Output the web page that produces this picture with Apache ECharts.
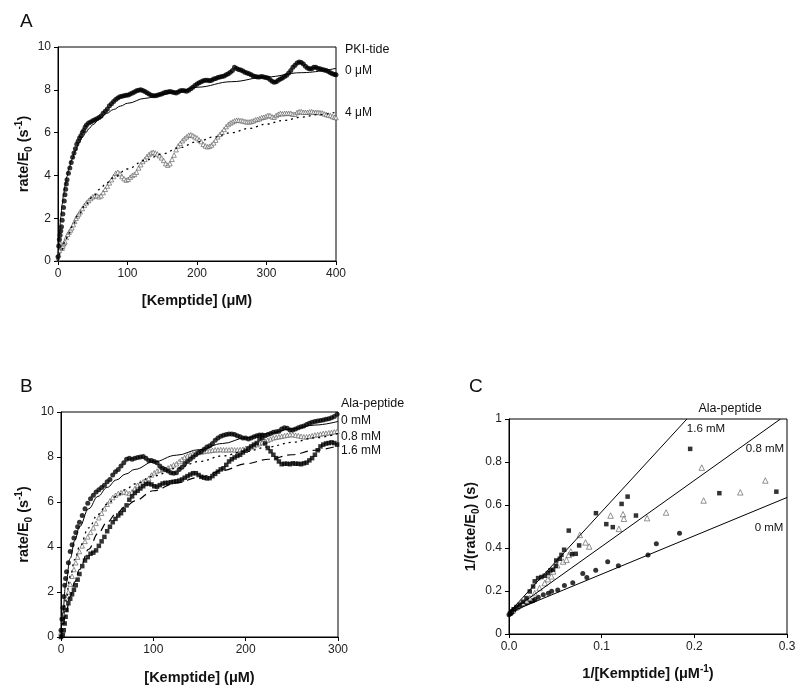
<!DOCTYPE html>
<html><head><meta charset="utf-8">
<script src="https://cdn.jsdelivr.net/npm/echarts@6/dist/echarts.min.js"></script>
<style>html,body{margin:0;padding:0;background:#fff}#c{width:800px;height:695px}</style>
</head><body><div id="c"></div><script>
// ---------- Panel A data (Kemptide µM, rate/E0 s^-1) ----------
const A_pki0_data = [[0,0.2],[1,0.7],[2,1.0],[3,1.2],[4,1.4],[5,1.6],[6,1.9],[7,2.2],[8,2.5],[9,2.8],[10,3.1],[11,3.35],[12,3.6],[13,3.8],[15,4.1],[17,4.35],[19,4.6],[21,4.85],[23,5.05],[25,5.25],[27,5.45],[29,5.6],[31,5.75],[33,5.85],[35,6.0],[37,6.1],[39,6.25],[41,6.35],[44,6.45],[47,6.5],[50,6.55],[53,6.6],[56,6.65],[59,6.7],[62,6.78],[65,6.9],[68,7.0],[71,7.1],[74,7.25],[77,7.35],[80,7.45],[83,7.55],[86,7.62],[89,7.68],[92,7.7],[95,7.72],[98,7.75],[101,7.76],[104,7.8],[107,7.85],[110,7.9],[113,7.95],[116,7.98],[119,8.0],[122,7.97],[125,7.92],[128,7.86],[131,7.8],[134,7.75],[137,7.72],[140,7.72],[143,7.75],[146,7.78],[149,7.8],[152,7.85],[155,7.88],[158,7.9],[161,7.92],[164,7.9],[167,7.87],[170,7.85],[173,7.9],[176,7.95],[179,7.97],[182,7.95],[185,7.93],[188,7.98],[191,8.05],[194,8.12],[197,8.2],[200,8.27],[203,8.33],[206,8.38],[209,8.42],[212,8.45],[215,8.45],[218,8.42],[221,8.45],[224,8.5],[227,8.53],[230,8.57],[233,8.6],[236,8.62],[239,8.65],[242,8.7],[245,8.75],[248,8.82],[251,8.9],[254,9.05],[257,9.0],[260,8.95],[263,8.92],[266,8.88],[269,8.82],[272,8.78],[275,8.75],[278,8.7],[281,8.65],[284,8.62],[287,8.6],[290,8.6],[293,8.62],[296,8.6],[299,8.58],[302,8.55],[305,8.48],[308,8.4],[311,8.35],[314,8.38],[317,8.45],[320,8.5],[323,8.55],[326,8.62],[329,8.68],[332,8.78],[335,8.9],[338,9.05],[341,9.15],[344,9.25],[347,9.3],[350,9.28],[353,9.2],[356,9.1],[359,9.02],[362,8.98],[365,8.98],[368,9.05],[371,9.05],[374,9.0],[377,8.98],[380,8.95],[383,8.92],[386,8.9],[389,8.85],[392,8.8],[395,8.75],[398,8.72],[400,8.7]];
const A_pki4_data = [[0,0.1],[1,0.3],[2,0.5],[3,0.7],[4,0.8],[5,0.65],[6,0.6],[7,0.7],[8,0.8],[9,0.85],[10,0.9],[12,1.1],[14,1.25],[16,1.35],[18,1.45],[20,1.55],[22,1.7],[24,1.85],[26,2.0],[28,2.1],[30,2.2],[32,2.3],[35,2.45],[38,2.6],[41,2.72],[44,2.82],[47,2.92],[50,3.0],[53,3.05],[56,3.05],[59,3.0],[62,3.05],[65,3.2],[68,3.35],[71,3.5],[74,3.65],[77,3.8],[80,3.95],[83,4.1],[86,4.15],[89,4.08],[92,3.95],[95,3.85],[98,3.78],[101,3.82],[104,3.92],[107,4.0],[110,4.05],[113,4.15],[116,4.35],[119,4.5],[122,4.65],[125,4.75],[128,4.88],[131,4.98],[134,5.05],[137,5.08],[140,5.05],[143,5.0],[146,4.92],[149,4.82],[152,4.7],[155,4.55],[158,4.48],[161,4.55],[164,4.75],[167,4.95],[170,5.2],[173,5.38],[176,5.5],[179,5.62],[182,5.72],[185,5.8],[188,5.88],[191,5.9],[194,5.86],[197,5.8],[200,5.75],[203,5.66],[206,5.58],[209,5.45],[212,5.38],[215,5.34],[218,5.36],[221,5.42],[224,5.52],[227,5.65],[230,5.8],[233,5.92],[236,6.02],[239,6.15],[242,6.28],[245,6.38],[248,6.45],[251,6.5],[254,6.55],[257,6.58],[260,6.58],[263,6.56],[266,6.55],[269,6.52],[272,6.5],[275,6.5],[278,6.52],[281,6.55],[284,6.6],[287,6.62],[290,6.65],[293,6.7],[296,6.72],[299,6.75],[302,6.8],[305,6.8],[308,6.74],[311,6.72],[314,6.8],[317,6.86],[320,6.9],[323,6.88],[326,6.9],[329,6.9],[332,6.9],[335,6.9],[338,6.86],[341,6.86],[344,6.94],[347,6.98],[350,6.98],[353,6.95],[356,6.95],[359,6.95],[362,6.97],[365,6.98],[368,6.95],[371,6.95],[374,6.95],[377,6.93],[380,6.92],[383,6.88],[386,6.85],[389,6.82],[392,6.8],[395,6.75],[398,6.72],[400,6.7]];
const A_fit0 = [[0,0],[1,0.7],[2,1.25],[4,2.05],[6,2.65],[8,3.1],[10,3.5],[13,3.95],[16,4.35],[20,4.75],[25,5.15],[30,5.5],[35,5.78],[40,6.0],[45,6.2],[50,6.37],[60,6.65],[70,6.9],[80,7.08],[90,7.24],[100,7.37],[125,7.6],[150,7.78],[175,7.95],[200,8.12],[250,8.38],[300,8.6],[350,8.8],[400,9.0]];
const A_fit4 = [[0,0],[5,0.5],[10,0.9],[15,1.27],[20,1.6],[30,2.2],[40,2.65],[50,3.0],[60,3.35],[70,3.65],[80,3.9],[100,4.3],[125,4.7],[150,5.0],[175,5.3],[200,5.57],[225,5.8],[250,6.0],[275,6.2],[300,6.4],[325,6.57],[350,6.72],[375,6.84],[400,6.95]];

// ---------- Panel B data ----------
const B_ala0_data = [[0,0.3],[1,0.8],[2,1.3],[3,1.8],[4,2.3],[5,2.6],[6,2.9],[8,3.3],[10,3.8],[12,4.1],[14,4.4],[16,4.65],[18,4.9],[20,5.1],[23,5.4],[26,5.7],[29,5.95],[32,6.15],[35,6.3],[38,6.45],[41,6.55],[44,6.65],[47,6.75],[50,6.9],[53,7.0],[56,7.2],[59,7.35],[62,7.45],[65,7.6],[68,7.75],[71,7.9],[74,7.95],[77,7.9],[80,7.95],[83,7.98],[86,8.0],[89,8.02],[92,7.95],[95,7.85],[98,7.85],[101,7.8],[104,7.75],[107,7.6],[110,7.5],[113,7.45],[116,7.38],[119,7.3],[122,7.28],[125,7.3],[128,7.45],[131,7.55],[134,7.7],[137,7.8],[140,7.9],[143,8.0],[146,8.1],[149,8.2],[152,8.25],[155,8.35],[158,8.45],[161,8.5],[164,8.6],[167,8.75],[170,8.85],[173,8.92],[176,8.97],[179,9.0],[182,9.02],[185,9.02],[188,9.0],[191,8.95],[194,8.9],[197,8.85],[200,8.85],[203,8.8],[206,8.85],[209,8.9],[212,8.95],[215,8.98],[218,8.98],[221,8.95],[224,9.0],[227,9.05],[230,9.1],[233,9.12],[236,9.15],[239,9.25],[242,9.3],[245,9.28],[248,9.2],[251,9.2],[254,9.25],[257,9.3],[260,9.35],[263,9.38],[266,9.45],[269,9.5],[272,9.55],[275,9.58],[278,9.6],[281,9.62],[284,9.65],[287,9.68],[290,9.7],[293,9.75],[296,9.8],[299,9.9]];
const B_ala08_data = [[0,0.2],[2,0.7],[3,1.0],[4,1.3],[6,1.7],[8,2.0],[10,2.35],[12,2.7],[14,3.0],[16,3.3],[18,3.55],[20,3.8],[23,4.05],[26,4.25],[29,4.45],[32,4.65],[35,4.85],[38,5.05],[41,5.3],[44,5.5],[47,5.7],[50,5.9],[53,6.05],[56,6.2],[59,6.3],[62,6.38],[65,6.42],[68,6.45],[71,6.42],[74,6.38],[77,6.45],[80,6.6],[83,6.75],[86,6.85],[89,6.9],[92,6.95],[95,7.05],[98,7.2],[101,7.3],[104,7.38],[107,7.42],[110,7.45],[113,7.45],[116,7.52],[119,7.58],[122,7.65],[125,7.7],[128,7.8],[131,7.9],[134,7.98],[137,8.05],[140,8.1],[143,8.15],[146,8.17],[149,8.2],[152,8.22],[155,8.25],[158,8.27],[161,8.28],[164,8.3],[167,8.32],[170,8.32],[173,8.33],[176,8.32],[179,8.32],[182,8.32],[185,8.33],[188,8.32],[191,8.32],[194,8.33],[197,8.35],[200,8.38],[203,8.4],[206,8.45],[209,8.5],[212,8.55],[215,8.6],[218,8.65],[221,8.7],[224,8.75],[227,8.8],[230,8.85],[233,8.88],[236,8.9],[239,8.92],[242,8.95],[245,8.97],[248,8.99],[251,9.0],[254,8.97],[257,8.95],[260,8.92],[263,8.9],[266,8.9],[269,8.92],[272,8.95],[275,8.98],[278,9.0],[281,9.02],[284,9.05],[287,9.06],[290,9.08],[293,9.1],[296,9.12],[299,9.14]];
const B_ala16_data = [[0,0.0],[2,0.1],[3,0.3],[4,0.6],[5,0.9],[6,1.2],[8,1.5],[10,1.7],[12,1.9],[14,2.1],[16,2.3],[18,2.55],[20,2.8],[23,3.15],[26,3.4],[29,3.55],[32,3.7],[35,3.75],[38,3.85],[41,4.05],[44,4.25],[47,4.45],[50,4.7],[53,4.9],[56,5.1],[59,5.25],[62,5.4],[65,5.5],[68,5.65],[71,5.85],[74,6.1],[77,6.25],[80,6.4],[83,6.5],[86,6.6],[89,6.7],[92,6.8],[95,6.82],[98,6.78],[101,6.7],[104,6.68],[107,6.75],[110,6.82],[113,6.85],[116,6.85],[119,6.88],[122,6.9],[125,6.92],[128,6.95],[131,7.0],[134,7.08],[137,7.15],[140,7.22],[143,7.28],[146,7.28],[149,7.2],[152,7.12],[155,7.08],[158,7.05],[161,7.06],[164,7.15],[167,7.25],[170,7.35],[173,7.45],[176,7.5],[179,7.65],[182,7.8],[185,7.9],[188,7.98],[191,8.05],[194,8.1],[197,8.2],[200,8.28],[203,8.38],[206,8.47],[209,8.55],[212,8.62],[215,8.8],[218,8.85],[221,8.6],[224,8.4],[227,8.25],[230,8.1],[233,7.95],[236,7.8],[239,7.68],[242,7.7],[245,7.7],[248,7.68],[251,7.72],[254,7.7],[257,7.7],[260,7.68],[263,7.72],[266,7.75],[269,7.85],[272,7.95],[275,8.1],[278,8.3],[281,8.47],[284,8.55],[287,8.6],[290,8.62],[293,8.65],[296,8.62],[299,8.55]];
const B_fit0 = [[0,0],[2,1.1],[5,2.3],[10,3.5],[15,4.3],[20,4.9],[30,5.7],[40,6.25],[50,6.65],[60,6.98],[70,7.24],[80,7.45],[100,7.78],[125,8.08],[150,8.33],[175,8.6],[200,8.85],[225,9.05],[250,9.25],[275,9.42],[300,9.58]];
const B_fit08 = [[0,0],[2,0.7],[5,1.6],[10,2.7],[15,3.45],[20,4.0],[30,4.85],[40,5.45],[50,5.9],[60,6.25],[70,6.55],[80,6.8],[100,7.15],[125,7.5],[150,7.8],[175,8.05],[200,8.25],[225,8.45],[250,8.65],[275,8.85],[300,9.05]];
const B_fit16 = [[0,0],[2,0.45],[5,1.0],[10,1.8],[15,2.45],[20,3.0],[30,3.9],[40,4.6],[50,5.1],[60,5.5],[70,5.8],[80,6.05],[100,6.5],[125,6.85],[150,7.1],[175,7.4],[200,7.7],[225,7.9],[250,8.1],[275,8.3],[300,8.5]];

// ---------- Panel C data (1/[S], 1/(rate/E0)) ----------
const C_ala0_data = [[0.0,0.09],[0.002,0.095],[0.003,0.1],[0.004,0.105],[0.005,0.11],[0.006,0.115],[0.008,0.12],[0.01,0.125],[0.012,0.13],[0.014,0.135],[0.016,0.14],[0.018,0.143],[0.02,0.147],[0.022,0.15],[0.024,0.153],[0.026,0.155],[0.028,0.16],[0.0316,0.171],[0.037,0.183],[0.0425,0.19],[0.046,0.199],[0.0526,0.205],[0.0598,0.226],[0.0688,0.238],[0.0796,0.281],[0.084,0.263],[0.0936,0.296],[0.1065,0.336],[0.118,0.318],[0.15,0.368],[0.159,0.42],[0.184,0.469]];
const C_ala08_data = [[0.004,0.11],[0.008,0.125],[0.012,0.135],[0.015,0.144],[0.019,0.155],[0.0224,0.167],[0.0278,0.19],[0.033,0.214],[0.0386,0.237],[0.042,0.255],[0.0458,0.268],[0.0476,0.291],[0.052,0.32],[0.0584,0.337],[0.062,0.345],[0.0645,0.368],[0.0667,0.384],[0.0764,0.461],[0.0826,0.426],[0.0865,0.407],[0.1096,0.551],[0.1186,0.489],[0.123,0.557],[0.124,0.536],[0.149,0.539],[0.1695,0.565],[0.208,0.774],[0.21,0.621],[0.2496,0.659],[0.2766,0.714]];
const C_ala16_data = [[0.001,0.095],[0.003,0.105],[0.005,0.115],[0.008,0.125],[0.0115,0.136],[0.015,0.15],[0.0188,0.167],[0.0224,0.198],[0.026,0.221],[0.0278,0.245],[0.0314,0.26],[0.035,0.265],[0.0386,0.271],[0.042,0.283],[0.0447,0.296],[0.0476,0.299],[0.0505,0.317],[0.051,0.342],[0.0548,0.35],[0.0566,0.368],[0.0595,0.392],[0.0645,0.481],[0.068,0.371],[0.072,0.373],[0.0757,0.412],[0.0938,0.562],[0.105,0.511],[0.112,0.497],[0.1215,0.605],[0.128,0.639],[0.137,0.551],[0.1955,0.861],[0.227,0.655],[0.2885,0.662]];
const C_line0 = [[0,0.1],[0.3,0.635]];
const C_line08 = [[0,0.1],[0.293,1.0]];
const C_line16 = [[0,0.1],[0.192,1.0]];

const A_xTicks = [0, 400, 100];
const A_yTicks = [0, 10, 2];
const B_xTicks = [0, 300, 100];
const C_xTicks = [0, 0.3, 0.1];
const C_yTicks = [0, 1, 0.2];

const FONT = '"Liberation Sans", Arial, sans-serif';
const rich = {
  sub: {fontSize: 10, fontWeight: 'bold', fontFamily: FONT, lineHeight: 10, verticalAlign: 'bottom'},
  sup: {fontSize: 10, fontWeight: 'bold', fontFamily: FONT, lineHeight: 10, verticalAlign: 'top'}
};
function axis(gi, t, name, gap, fmt) {
  return {
    type: 'value', gridIndex: gi, min: t[0], max: t[1], interval: t[2],
    name: name, nameLocation: 'middle', nameGap: gap,
    nameTextStyle: {fontFamily: FONT, fontWeight: 'bold', fontSize: 14.5, color: '#111', lineHeight: 20, rich: rich},
    axisLine: {show: true, onZero: false, lineStyle: {color: '#000', width: 1}},
    axisTick: {show: true, length: 4, lineStyle: {color: '#000'}},
    axisLabel: {fontFamily: FONT, fontSize: 12, color: '#222', margin: 7, formatter: fmt},
    splitLine: {show: false}
  };
}
const fmtInt = v => String(Math.round(v));
const fmtC_x = v => v.toFixed(1);
const fmtC_y = v => (Math.abs(v) < 1e-9 ? '0' : Math.abs(v - 1) < 1e-9 ? '1' : v.toFixed(1));

function dots(xi, data, sym, size, filled, z) {
  return {type: 'scatter', xAxisIndex: xi, yAxisIndex: xi, data: data, symbol: sym, symbolSize: size, z: z || 3,
    itemStyle: filled ? {color: '#000'} : {color: '#fff', borderColor: '#555', borderWidth: 0.8}, silent: true};
}
function fit(xi, data, type, w) {
  return {type: 'line', xAxisIndex: xi, yAxisIndex: xi, data: data, smooth: 0.4, smoothMonotone: 'x', showSymbol: false, symbol: 'none', z: 4,
    lineStyle: {color: '#000', width: w || 1, type: type}, silent: true};
}

const chart = echarts.init(document.getElementById('c'), null, {renderer: 'canvas'});
const gridStyle = {show: true, borderColor: '#000', borderWidth: 1, backgroundColor: 'transparent', containLabel: false};
const txt = (x, y, s, size, align) => ({type: 'text', x: x, y: y, style: {text: s, fontFamily: FONT, fontSize: size, fill: '#111', textAlign: align || 'left', textVerticalAlign: 'middle'}});

chart.setOption({
  animation: false,
  backgroundColor: '#fff',
  grid: [
    Object.assign({left: 58, top: 47, width: 278, height: 214}, gridStyle),
    Object.assign({left: 61, top: 412, width: 277, height: 225}, gridStyle),
    Object.assign({left: 509, top: 419, width: 278, height: 215}, gridStyle)
  ],
  xAxis: [
    axis(0, A_xTicks, '[Kemptide] (μM)', 30, fmtInt),
    axis(1, B_xTicks, '[Kemptide] (μM)', 31, fmtInt),
    axis(2, C_xTicks, '1/[Kemptide] (μM{sup|-1})', 30, fmtC_x)
  ],
  yAxis: [
    axis(0, A_yTicks, 'rate/E{sub|0} (s{sup|-1})', 24, fmtInt),
    axis(1, A_yTicks, 'rate/E{sub|0} (s{sup|-1})', 27, fmtInt),
    axis(2, C_yTicks, '1/(rate/E{sub|0}) (s)', 28, fmtC_y)
  ],
  series: [
    dots(0, A_pki4_data, 'triangle', 4.5, false, 2),
    dots(0, A_pki0_data, 'circle', 5, true, 3),
    fit(0, A_fit0, 'solid', 1),
    fit(0, A_fit4, [2, 4], 1.3),
    dots(1, B_ala08_data, 'triangle', 4.5, false, 2),
    dots(1, B_ala16_data, 'rect', 4.5, true, 3),
    dots(1, B_ala0_data, 'circle', 5, true, 3),
    fit(1, B_fit0, 'solid', 1),
    fit(1, B_fit08, [2, 4], 1.3),
    fit(1, B_fit16, [8, 5], 1.2),
    dots(2, C_ala0_data, 'circle', 5, true, 3),
    dots(2, C_ala08_data, 'triangle', 5.5, false, 3),
    dots(2, C_ala16_data, 'rect', 4.5, true, 3),
    {type: 'line', xAxisIndex: 2, yAxisIndex: 2, data: C_line0, showSymbol: false, symbol: 'none', lineStyle: {color: '#000', width: 1}, z: 4},
    {type: 'line', xAxisIndex: 2, yAxisIndex: 2, data: C_line08, showSymbol: false, symbol: 'none', lineStyle: {color: '#000', width: 1}, z: 4},
    {type: 'line', xAxisIndex: 2, yAxisIndex: 2, data: C_line16, showSymbol: false, symbol: 'none', lineStyle: {color: '#000', width: 1}, z: 4}
  ],
  graphic: [
    txt(20, 22, 'A', 19),
    txt(20, 387, 'B', 19),
    txt(469, 387, 'C', 19),
    txt(345, 50, 'PKI-tide', 12.5),
    txt(345, 71, '0 μM', 12),
    txt(345, 113, '4 μM', 12),
    txt(341, 404, 'Ala-peptide', 12.5),
    txt(341, 421, '0 mM', 12),
    txt(341, 437, '0.8 mM', 12),
    txt(341, 451, '1.6 mM', 12),
    txt(730, 409, 'Ala-peptide', 12.5, 'center'),
    txt(706, 429, '1.6 mM', 11.5, 'center'),
    txt(765, 449, '0.8 mM', 11.5, 'center'),
    txt(769, 528, '0 mM', 11.5, 'center')
  ]
});
</script></body></html>
